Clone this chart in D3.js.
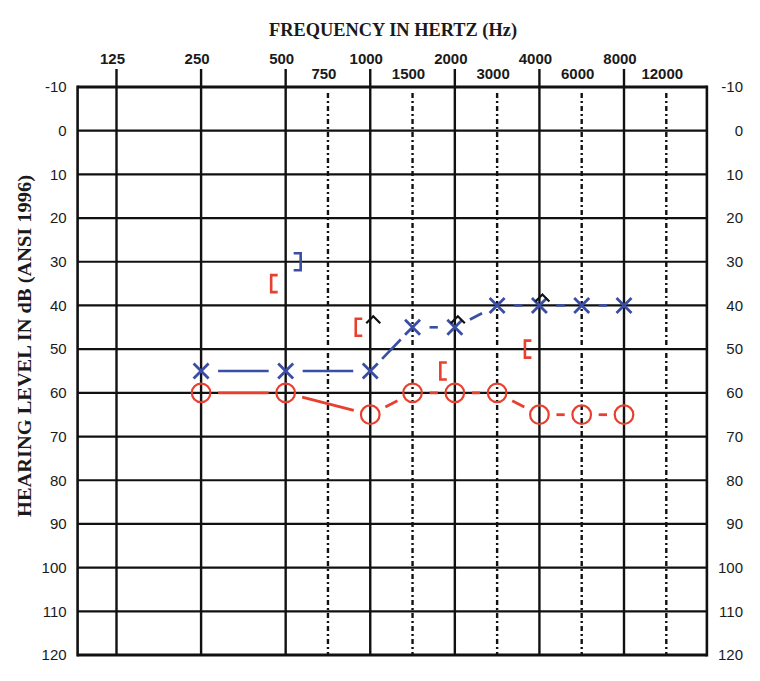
<!DOCTYPE html>
<html>
<head>
<meta charset="utf-8">
<script src="https://cdn.jsdelivr.net/npm/d3@7"></script>
<style>
  html, body { margin: 0; padding: 0; background: #ffffff; }
  svg { display: block; }
</style>
</head>
<body>
<svg id="chart" width="760" height="681"></svg>
<script>
// Audiogram frequencies (Hz)
const octaveFreqs = [125, 250, 500, 1000, 2000, 4000, 8000];
const halfOctaveFreqs = [750, 1500, 3000, 6000, 12000];
// Hearing level ticks (dB HL)
const dbTicks = [-10, 0, 10, 20, 30, 40, 50, 60, 70, 80, 90, 100, 110, 120];

// Air conduction thresholds
const airFreqs = [250, 500, 1000, 1500, 2000, 3000, 4000, 6000, 8000];
const rightAir = [60, 60, 65, 60, 60, 60, 65, 65, 65];   // O
const leftAir  = [55, 55, 55, 45, 45, 40, 40, 40, 40];   // X

// Masked bone conduction
const rightMaskedBoneFreqs = [500, 1000, 2000, 4000];    // [
const rightMaskedBone      = [35, 45, 55, 50];
const leftMaskedBoneFreqs  = [500];                      // ]
const leftMaskedBone       = [30];

// Unmasked bone conduction
const unmaskedBoneFreqs = [1000, 2000, 4000];            // ^
const unmaskedBone      = [45, 45, 40];

const RED = "#e8402f";
const BLUE = "#3b4ea6";
const INK = "#111111";

const svg = d3.select("#chart");

// Octave position: half-octave frequencies sit midway between octaves
const octavePos = f => Math.round(2 * Math.log2(f / 125)) / 2;
const x = d3.scaleLinear().domain([0, 6]).range([116.5, 624]);
const y = d3.scaleLinear().domain([-10, 120]).range([87, 655]);
const fx = f => x(octavePos(f));

const frameLeft = x(-0.46), frameRight = x(6.98);
const frameTop = y(-10), frameBottom = y(120);

const grid = svg.append("g");

// Horizontal lines every 10 dB
grid.selectAll("line.h").data(dbTicks).join("line")
  .attr("x1", frameLeft).attr("x2", frameRight)
  .attr("y1", d => y(d)).attr("y2", d => y(d))
  .attr("stroke", INK)
  .attr("stroke-width", d => (d === -10 || d === 120) ? 3 : 2.2);

// Half-octave dash-dot verticals
grid.selectAll("line.half").data(halfOctaveFreqs).join("line")
  .attr("x1", fx).attr("x2", fx)
  .attr("y1", frameTop + 6).attr("y2", frameBottom)
  .attr("stroke", INK).attr("stroke-width", 2.4)
  .attr("stroke-dasharray", "5,3,2,3");

// Octave verticals, extending above the frame
grid.selectAll("line.oct").data(octaveFreqs).join("line")
  .attr("x1", fx).attr("x2", fx)
  .attr("y1", 69).attr("y2", frameBottom)
  .attr("stroke", INK).attr("stroke-width", 2.4);

// Frame sides
grid.append("line").attr("x1", frameLeft).attr("x2", frameLeft)
  .attr("y1", frameTop - 1.5).attr("y2", frameBottom + 1.5)
  .attr("stroke", INK).attr("stroke-width", 2.6);
grid.append("line").attr("x1", frameRight).attr("x2", frameRight)
  .attr("y1", frameTop - 1.5).attr("y2", frameBottom + 1.5)
  .attr("stroke", INK).attr("stroke-width", 2.6);

// Frequency labels
const labelFont = "'Liberation Sans', Arial, sans-serif";
svg.append("g").selectAll("text").data(octaveFreqs).join("text")
  .attr("x", d => fx(d) - 4).attr("y", 64)
  .attr("text-anchor", "middle")
  .attr("font-family", labelFont).attr("font-weight", "bold").attr("font-size", 15)
  .attr("fill", "#1a1a1a")
  .text(d => d);
svg.append("g").selectAll("text").data(halfOctaveFreqs).join("text")
  .attr("x", d => fx(d) - 4).attr("y", 79)
  .attr("text-anchor", "middle")
  .attr("font-family", labelFont).attr("font-weight", "bold").attr("font-size", 15)
  .attr("fill", "#1a1a1a")
  .text(d => d);

// Hearing level axes (labels only)
const fmt = d => String(d);
const yAxisL = d3.axisLeft(y).tickValues(dbTicks).tickFormat(fmt).tickSize(0).tickPadding(11);
const yAxisR = d3.axisRight(y).tickValues(dbTicks).tickFormat(fmt).tickSize(0).tickPadding(0);
const gL = svg.append("g").attr("transform", `translate(${frameLeft},0)`).call(yAxisL);
const gR = svg.append("g").attr("transform", "translate(743,0)").call(yAxisR);
[gL, gR].forEach(g => {
  g.select(".domain").remove();
  g.selectAll("text")
    .attr("font-family", labelFont).attr("font-size", 15).attr("fill", "#1a1a1a");
});
gR.selectAll("text").attr("text-anchor", "end");

// Titles
svg.append("text")
  .attr("x", 393).attr("y", 36)
  .attr("text-anchor", "middle")
  .attr("font-family", "'Liberation Serif', 'Times New Roman', serif")
  .attr("font-weight", "bold").attr("font-size", 19)
  .attr("textLength", 248).attr("lengthAdjust", "spacingAndGlyphs")
  .attr("fill", "#1a1a1a")
  .text("FREQUENCY IN HERTZ (Hz)");
svg.append("text")
  .attr("transform", "translate(31,346) rotate(-90)")
  .attr("text-anchor", "middle")
  .attr("font-family", "'Liberation Serif', 'Times New Roman', serif")
  .attr("font-weight", "bold").attr("font-size", 18)
  .attr("textLength", 342).attr("lengthAdjust", "spacingAndGlyphs")
  .attr("fill", "#1a1a1a")
  .text("HEARING LEVEL IN dB (ANSI 1996)");

// Connecting lines, trimmed short of each symbol
function connect(freqs, vals, color, width) {
  const pts = freqs.map((f, i) => [fx(f), y(vals[i])]);
  const segs = d3.pairs(pts).map(([a, b]) => {
    const dx = b[0] - a[0], dy = b[1] - a[1];
    const len = Math.hypot(dx, dy), gap = 17;
    const ux = dx / len, uy = dy / len;
    return [a[0] + ux * gap, a[1] + uy * gap, b[0] - ux * gap, b[1] - uy * gap];
  });
  svg.append("g").selectAll("line").data(segs).join("line")
    .attr("x1", d => d[0]).attr("y1", d => d[1])
    .attr("x2", d => d[2]).attr("y2", d => d[3])
    .attr("stroke", color).attr("stroke-width", width);
}
connect(airFreqs, leftAir, BLUE, 2.6);
connect(airFreqs, rightAir, RED, 2.8);

// Right ear air: circles
svg.append("g").selectAll("circle").data(airFreqs).join("circle")
  .attr("cx", fx).attr("cy", (d, i) => y(rightAir[i]))
  .attr("r", 9.3)
  .attr("fill", "none").attr("stroke", RED).attr("stroke-width", 2.2);

// Left ear air: crosses
svg.append("g").selectAll("path").data(airFreqs).join("path")
  .attr("d", (d, i) => {
    const cx = fx(d), cy = y(leftAir[i]), s = 7.5;
    return `M${cx - s},${cy - s}L${cx + s},${cy + s}M${cx - s},${cy + s}L${cx + s},${cy - s}`;
  })
  .attr("fill", "none").attr("stroke", BLUE).attr("stroke-width", 2.8);

// Right masked bone: [
svg.append("g").selectAll("path").data(rightMaskedBoneFreqs).join("path")
  .attr("d", (d, i) => {
    const cx = fx(d), cy = y(rightMaskedBone[i]);
    return `M${cx - 8},${cy - 8.5}H${cx - 14.5}V${cy + 8.5}H${cx - 8}`;
  })
  .attr("fill", "none").attr("stroke", RED).attr("stroke-width", 2.6);

// Left masked bone: ]
svg.append("g").selectAll("path").data(leftMaskedBoneFreqs).join("path")
  .attr("d", (d, i) => {
    const cx = fx(d), cy = y(leftMaskedBone[i]);
    return `M${cx + 8},${cy - 8.5}H${cx + 15}V${cy + 8.5}H${cx + 8}`;
  })
  .attr("fill", "none").attr("stroke", BLUE).attr("stroke-width", 2.6);

// Unmasked bone: ^
svg.append("g").selectAll("path").data(unmaskedBoneFreqs).join("path")
  .attr("d", (d, i) => {
    const cx = fx(d) + 3, cy = y(unmaskedBone[i]);
    return `M${cx - 7},${cy - 4}L${cx},${cy - 11}L${cx + 7},${cy - 4}`;
  })
  .attr("fill", "none").attr("stroke", INK).attr("stroke-width", 2.2);
</script>
</body>
</html>
